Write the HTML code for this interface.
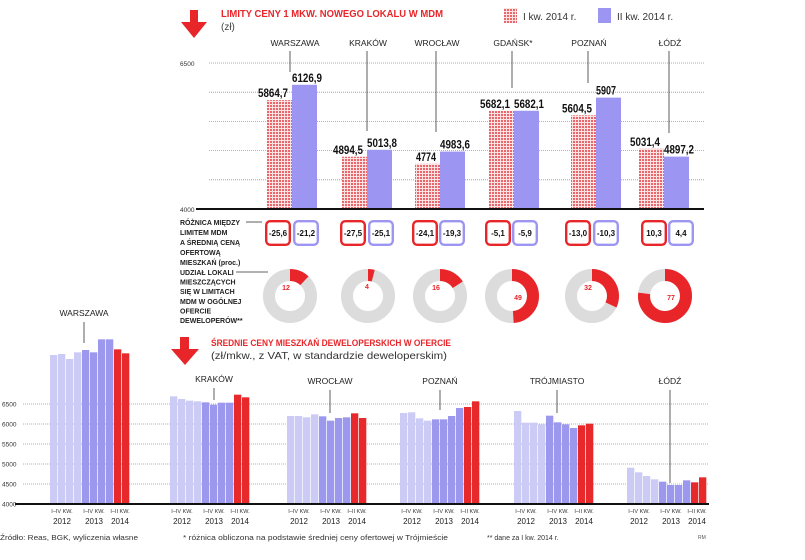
<!DOCTYPE html>
<html><head><meta charset="utf-8">
<style>
html,body{margin:0;padding:0;background:#fff;}
svg{display:block;font-family:"Liberation Sans Narrow","Liberation Sans",sans-serif;}
</style></head>
<body>
<svg id="c" width="805" height="560" viewBox="0 0 805 560" xmlns="http://www.w3.org/2000/svg">
<defs>
<pattern id="dots" width="3" height="3" patternUnits="userSpaceOnUse">
<rect width="3" height="3" fill="#fbe3e3"/><rect width="2" height="2" fill="#e9666a"/>
</pattern>
</defs>
<g id="gtop"></g>
<g id="gmid"></g>
<g id="gbot"></g>
</svg>
<script>
const cities = ["WARSZAWA","KRAKÓW","WROCŁAW","GDAŃSK*","POZNAŃ","ŁÓDŹ"];
const q1Values = [5864.7,4894.5,4774,5682.1,5604.5,5031.4];
const q2Values = [6126.9,5013.8,4983.6,5682.1,5907,4897.2];
const q1Labels = ["5864,7","4894,5","4774","5682,1","5604,5","5031,4"];
const q2Labels = ["6126,9","5013,8","4983,6","5682,1","5907","4897,2"];
const diffQ1 = ["-25,6","-27,5","-24,1","-5,1","-13,0","10,3"];
const diffQ2 = ["-21,2","-25,1","-19,3","-5,9","-10,3","4,4"];
const shares = [12,4,16,49,32,77];
const topTicks = [4000,4500,5000,5500,6000,6500];
const topTickLabels = ["4000","","","","","6500"];

const groups = ["WARSZAWA","KRAKÓW","WROCŁAW","POZNAŃ","TRÓJMIASTO","ŁÓDŹ"];
const priceWarszawa = [7725,7750,7625,7792,7850,7792,8117,8117,7867,7767];
const priceKrakow = [6692,6625,6583,6567,6542,6483,6533,6533,6733,6667];
const priceWroclaw = [6200,6200,6167,6242,6192,6083,6150,6167,6267,6150];
const pricePoznan = [6275,6292,6142,6083,6117,6117,6200,6400,6425,6567];
const priceTrojmiasto = [6325,6033,6033,5992,6208,6042,5992,5900,5967,6008];
const priceLodz = [4908,4792,4700,4617,4558,4475,4475,4592,4542,4667];
const botTicks = [4000,4500,5000,5500,6000,6500];
const botTickLabels = ["4000","4500","5000","5500","6000","6500"];

const NS="http://www.w3.org/2000/svg";
function mk(parent,tag,attrs,text){const e=document.createElementNS(NS,tag);for(const k in attrs)e.setAttribute(k,attrs[k]);if(text!==undefined)e.textContent=text;parent.appendChild(e);return e;}
const gTop=document.getElementById('gtop'),gMid=document.getElementById('gmid'),gBot=document.getElementById('gbot');

const yT=v=>209-(v-4000)*146/2500;
const pairX=[267,342,415,489,571,639];
const BW=25;
let el;
el=mk(gTop,'path',{d:'M190 10 h8 v12 h9 l-13 16 l-13 -16 h9 z',fill:'#e8262a'});

el=mk(gTop,'text',{x:221,y:17,fill:'#e8262a','font-size':10,'font-weight':'bold',textLength:222,lengthAdjust:'spacingAndGlyphs'},'LIMITY CENY 1 MKW. NOWEGO LOKALU W MDM');

el=mk(gTop,'text',{x:221,y:30,fill:'#444','font-size':10},'(zł)');

el=mk(gTop,'rect',{x:504,y:8,width:13,height:15,fill:'url(#dots)'});

el=mk(gTop,'text',{x:523,y:20,fill:'#333','font-size':10},'I kw. 2014 r.');

el=mk(gTop,'rect',{x:598,y:8,width:13,height:15,fill:'#9c96f2'});

el=mk(gTop,'text',{x:617,y:20,fill:'#333','font-size':10},'II kw. 2014 r.');

topTicks.forEach((t,i)=>{
  if(i>0){el=mk(gTop,'line',{x1:209,x2:704,y1:yT(t),y2:yT(t),stroke:'#999','stroke-width':0.8,'stroke-dasharray':'1 1'});
  }
  if(topTickLabels[i]){el=mk(gTop,'text',{x:180,y:yT(t)+3,'font-size':6.5,fill:'#333'},topTickLabels[i]);
  }
});
const leaderEnd=[72,131,132,88,83,133];
const labelCx=[295,368,437,513,589,670];
cities.forEach((c,i)=>{
  const x=pairX[i];
  el=mk(gTop,'rect',{x:x,y:yT(q1Values[i]),width:BW,height:209-yT(q1Values[i]),fill:'url(#dots)'});
  
  el=mk(gTop,'rect',{x:x+BW,y:yT(q2Values[i]),width:BW,height:209-yT(q2Values[i]),fill:'#9c96f2'});
  
  el=mk(gTop,'text',{x:x+21,y:yT(q1Values[i])-3,'text-anchor':'end','font-size':11.5,'font-weight':'bold',fill:'#111',textLength:q1Labels[i].length*5,lengthAdjust:'spacingAndGlyphs'},q1Labels[i]);
  
  el=mk(gTop,'text',{x:x+BW,y:yT(q2Values[i])-3,'font-size':11.5,'font-weight':'bold',fill:'#111',textLength:q2Labels[i].length*5,lengthAdjust:'spacingAndGlyphs'},q2Labels[i]);
  
  el=mk(gTop,'text',{x:labelCx[i],y:46,'text-anchor':'middle','font-size':8.5,fill:'#222'},c);
  
  const lx=(i==0)?290:labelCx[i]-1;
  el=mk(gTop,'line',{x1:lx,x2:lx,y1:51,y2:leaderEnd[i],stroke:'#333','stroke-width':0.8});
  
});
el=mk(gTop,'line',{x1:196,x2:704,y1:209,y2:209,stroke:'#111','stroke-width':2});


const boxX1=[265,340,412,485,565,641];
const boxX2=[293,368,439,512,593,668];
const donutCx=[290,368,440,512,592,665];
const t1=["RÓŻNICA MIĘDZY","LIMITEM MDM","A ŚREDNIĄ CENĄ","OFERTOWĄ","MIESZKAŃ (proc.)"];
t1.forEach((s,i)=>{el=mk(gMid,'text',{x:180,y:225+i*10,'font-size':7,'font-weight':'bold',fill:'#222'},s);
});
const t2=["UDZIAŁ LOKALI","MIESZCZĄCYCH","SIĘ W LIMITACH","MDM W OGÓLNEJ","OFERCIE","DEWELOPERÓW**"];
t2.forEach((s,i)=>{el=mk(gMid,'text',{x:180,y:275+i*9.6,'font-size':7,'font-weight':'bold',fill:'#222'},s);
});
el=mk(gMid,'line',{x1:246,x2:262,y1:222,y2:222,stroke:'#333','stroke-width':0.8});

el=mk(gMid,'line',{x1:236,x2:268,y1:272,y2:272,stroke:'#333','stroke-width':0.8});

cities.forEach((c,i)=>{
  el=mk(gMid,'rect',{x:boxX1[i]+1.2,y:221.2,width:23.6,height:23.6,rx:4,fill:'#fff',stroke:'#e8262a','stroke-width':2.4});
  
  el=mk(gMid,'text',{x:boxX1[i]+13,y:236,'text-anchor':'middle','font-size':8,'font-weight':'bold',fill:'#111'},diffQ1[i]);
  
  el=mk(gMid,'rect',{x:boxX2[i]+1.2,y:221.2,width:23.6,height:23.6,rx:4,fill:'#fff',stroke:'#9c96f2','stroke-width':2.4});
  
  el=mk(gMid,'text',{x:boxX2[i]+13,y:236,'text-anchor':'middle','font-size':8,'font-weight':'bold',fill:'#111'},diffQ2[i]);
  
  const cx=donutCx[i],cy=296,r=21;
  el=mk(gMid,'circle',{cx:cx,cy:cy,r:r,fill:'none',stroke:'#dcdcdc','stroke-width':12});
  
  const a=shares[i]/100*2*Math.PI;
  const ex=cx+r*Math.sin(a),ey=cy-r*Math.cos(a);
  el=mk(gMid,'path',{d:`M${cx} ${cy-r} A${r} ${r} 0 ${shares[i]>50?1:0} 1 ${ex} ${ey}`,fill:'none',stroke:'#e8262a','stroke-width':12});
  
  el=mk(gMid,'text',{x:cx+(shares[i]>40?6:-4+(shares[i]<10?3:0)),y:cy+(shares[i]>40?4:-6+(shares[i]<10?-1:0)),'text-anchor':'middle','font-size':7,'font-weight':'bold',fill:'#e8262a'},String(shares[i]));
  
});

const yB=v=>504-(v-4000)*0.04;
const groupX=[50,170,287,400,514,627];
const series=[priceWarszawa,priceKrakow,priceWroclaw,pricePoznan,priceTrojmiasto,priceLodz];
const colors=["#cbcbf6","#cbcbf6","#cbcbf6","#cbcbf6","#9c98ee","#9c98ee","#9c98ee","#9c98ee","#e8292b","#e8292b"];
el=mk(gBot,'path',{d:'M180 337 h9 v12 h10 l-14 16 l-14 -16 h9 z',fill:'#e8262a'});

el=mk(gBot,'text',{x:211,y:346,fill:'#e8262a','font-size':9.5,'font-weight':'bold',textLength:240,lengthAdjust:'spacingAndGlyphs'},'ŚREDNIE CENY MIESZKAŃ DEWELOPERSKICH W OFERCIE');

el=mk(gBot,'text',{x:211,y:359,fill:'#333','font-size':10.5,textLength:236,lengthAdjust:'spacingAndGlyphs'},'(zł/mkw., z VAT, w standardzie deweloperskim)');

botTicks.forEach((t,i)=>{
  if(i>0){el=mk(gBot,'line',{x1:23,x2:709,y1:yB(t),y2:yB(t),stroke:'#999','stroke-width':0.8,'stroke-dasharray':'1 1'});
  }
  el=mk(gBot,'text',{x:2,y:yB(t)+2.5,'font-size':6.5,fill:'#333'},botTickLabels[i]);
  
});
const bLabelX=[84,214,330,440,557,670];
const bLabelY=[316,382,384,384,384,384];
const bLeadTop=[322,388,390,390,390,390];
const bLeadEnd=[343,400,413,410,413,483];
groups.forEach((g,gi)=>{
  const vals=series[gi];
  vals.forEach((v,k)=>{
    el=mk(gBot,'rect',{x:groupX[gi]+k*8,y:yB(v),width:7.3,height:504-yB(v),fill:colors[k]});
    
  });
  el=mk(gBot,'text',{x:bLabelX[gi],y:bLabelY[gi],'text-anchor':'middle','font-size':8.5,fill:'#222'},g);
  
  el=mk(gBot,'line',{x1:bLabelX[gi],x2:bLabelX[gi],y1:bLeadTop[gi],y2:bLeadEnd[gi],stroke:'#333','stroke-width':0.8});
  
  const offs=[12,44,70],qs=["I–IV KW.","I–IV KW.","I–II KW."],yrs=["2012","2013","2014"];
  offs.forEach((o,j)=>{
    el=mk(gBot,'text',{x:groupX[gi]+o,y:513,'text-anchor':'middle','font-size':5.5,fill:'#333'},qs[j]);
    
    el=mk(gBot,'text',{x:groupX[gi]+o,y:524,'text-anchor':'middle','font-size':8,fill:'#222'},yrs[j]);
    
  });
});
el=mk(gBot,'line',{x1:15,x2:709,y1:504,y2:504,stroke:'#111','stroke-width':2});

el=mk(gBot,'text',{x:0,y:540,'font-size':7,fill:'#333',textLength:138,lengthAdjust:'spacingAndGlyphs'},'Źródło: Reas, BGK, wyliczenia własne');

el=mk(gBot,'text',{x:183,y:540,'font-size':7,fill:'#333',textLength:265,lengthAdjust:'spacingAndGlyphs'},'* różnica obliczona na podstawie średniej ceny ofertowej w Trójmieście');

el=mk(gBot,'text',{x:487,y:540,'font-size':7,fill:'#333'},'** dane za I kw. 2014 r.');

el=mk(gBot,'text',{x:698,y:539,'font-size':5,fill:'#555'},'RM');

</script>
</body></html>
